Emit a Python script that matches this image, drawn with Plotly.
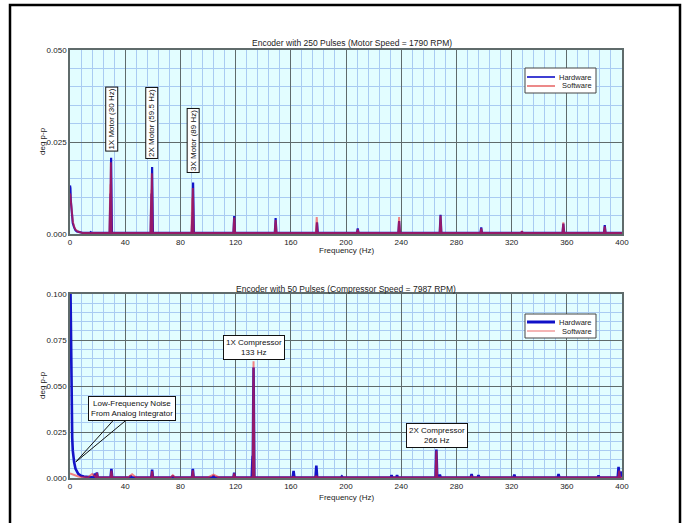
import plotly.graph_objects as go

W, H = 688, 523

# ---------------- data: top panel (250-pulse encoder, motor 1790 RPM) ----------------
top_hw_low_hz = [0, 0.3, 0.6, 1.0, 1.5, 2.0, 3.0, 4.0, 5.0, 7.0, 9.0]
top_hw_low_amp = [0.0132, 0.0125, 0.0090, 0.0065, 0.0040, 0.0030, 0.0018, 0.0010, 0.0007, 0.0005, 0.0003]
top_hw_peak_hz = [15, 29.3, 29.8, 59.0, 59.5, 88.8, 89.2, 119, 149, 179, 208.5, 238.5, 268.5, 298, 327.5, 357.5, 387.5]
top_hw_peak_amp = [0.0005, 0.0110, 0.0207, 0.0110, 0.0182, 0.0060, 0.0140, 0.0049, 0.0043, 0.0032,
                   0.0015, 0.0035, 0.0052, 0.0018, 0.0007, 0.0028, 0.0024]

top_sw_low_hz = [0, 0.3, 0.6, 1.0, 1.5, 2.0, 3.0, 4.0, 6.0, 9.0]
top_sw_low_amp = [0.0110, 0.0105, 0.0090, 0.0070, 0.0050, 0.0035, 0.0020, 0.0012, 0.0006, 0.0003]
top_sw_peak_hz = [15, 29.2, 29.6, 58.9, 59.3, 88.6, 89.0, 119, 149, 178.8, 208.5, 238.5, 268.5, 298, 327.5, 357.5, 387.5]
top_sw_peak_amp = [0.0004, 0.0135, 0.0195, 0.0120, 0.0165, 0.0100, 0.0125, 0.0045, 0.0038, 0.0046,
                   0.0012, 0.0046, 0.0050, 0.0015, 0.0006, 0.0032, 0.0021]

# ---------------- data: bottom panel (50-pulse encoder, compressor 7987 RPM) ----------------
bot_hw_low_hz = [0, 0.2, 0.4, 0.6, 0.8, 1.0, 1.3, 1.6, 2.0, 2.5, 3.0, 4.0, 5.0, 6.0, 8.0, 10.0]
bot_hw_low_amp = [0.125, 0.110, 0.075, 0.059, 0.050, 0.040, 0.030, 0.022, 0.015, 0.011,
                  0.0085, 0.0050, 0.0032, 0.0022, 0.0012, 0.0008]
bot_hw_peak_hz = [18, 19.5, 30, 44, 59.5, 74.5, 89, 104, 119, 132.3, 133, 162, 178.5, 197,
                  233, 237, 265.5, 268, 291, 296, 322, 354, 383, 397.5, 399]
bot_hw_peak_amp = [0.0025, 0.0030, 0.0050, 0.0012, 0.0045, 0.0012, 0.0050, 0.0012, 0.0028, 0.0120,
                   0.0600, 0.0038, 0.0068, 0.0008, 0.0015, 0.0015, 0.0155, 0.0018, 0.0022, 0.0016,
                   0.0018, 0.0022, 0.0014, 0.0060, 0.0035]

bot_sw_low_hz = [0, 1.0, 2.0, 4.0, 6.0, 8.0]
bot_sw_low_amp = [0.0025, 0.0022, 0.0020, 0.0012, 0.0008, 0.0006]
bot_sw_peak_hz = [16, 19.5, 30, 45, 59.5, 74.5, 89, 104, 119, 133, 162, 178.5, 265.5, 291, 398]
bot_sw_peak_amp = [0.0022, 0.0028, 0.0040, 0.0020, 0.0038, 0.0015, 0.0042, 0.0018, 0.0025, 0.0635,
                   0.0006, 0.0012, 0.0148, 0.0008, 0.0040]
bot_sw_peak_halfwidth = [3, 0.6, 0.6, 3, 0.6, 1.5, 0.6, 4, 0.6, 0.6, 0.6, 0.6, 0.6, 0.6, 0.6]

FLOOR = 0.0003
F_MAX = 400


def spectrum(low_hz, low_amp, peak_hz, peak_amp, halfwidth=None):
    """Line-spectrum polyline: low-frequency roll-off followed by narrow peaks on a noise floor."""
    xs, ys = list(low_hz), list(low_amp)
    if halfwidth is None:
        halfwidth = [0.6] * len(peak_hz)
    for f, a, w in zip(peak_hz, peak_amp, halfwidth):
        xs += [f - w, f, f + w]
        ys += [FLOOR, a, FLOOR]
    xs.append(F_MAX)
    ys.append(FLOOR)
    return xs, ys


BLUE = "#1414c8"
RED = "rgba(255,30,30,0.55)"

fig = go.Figure()

x, y = spectrum(top_hw_low_hz, top_hw_low_amp, top_hw_peak_hz, top_hw_peak_amp)
fig.add_trace(go.Scatter(x=x, y=y, mode="lines", name="Hardware",
                         line=dict(color=BLUE, width=2.2), xaxis="x", yaxis="y"))
x, y = spectrum(top_sw_low_hz, top_sw_low_amp, top_sw_peak_hz, top_sw_peak_amp)
fig.add_trace(go.Scatter(x=x, y=y, mode="lines", name="Software",
                         line=dict(color=RED, width=2.0), xaxis="x", yaxis="y"))

x, y = spectrum(bot_hw_low_hz, bot_hw_low_amp, bot_hw_peak_hz, bot_hw_peak_amp)
fig.add_trace(go.Scatter(x=x, y=y, mode="lines", name="Hardware",
                         line=dict(color=BLUE, width=2.6), xaxis="x2", yaxis="y2"))
x, y = spectrum(bot_sw_low_hz, bot_sw_low_amp, bot_sw_peak_hz, bot_sw_peak_amp, bot_sw_peak_halfwidth)
fig.add_trace(go.Scatter(x=x, y=y, mode="lines", name="Software",
                         line=dict(color=RED, width=2.0), xaxis="x2", yaxis="y2"))

# ---------------- axes ----------------
FONT = "Liberation Sans, Arial, sans-serif"
BG = "#e2fdff"
MINOR = "#a9cbf2"
MAJOR = "#5f6b6b"

x_dom = [70 / W, 622 / W]
top_dom = [1 - 234 / H, 1 - 50 / H]
bot_dom = [1 - 478 / H, 1 - 294 / H]


def xaxis_style(anchor):
    return dict(domain=x_dom, anchor=anchor, range=[0, 400], dtick=40, tick0=0, automargin=False,
                showgrid=True, gridcolor=MAJOR, gridwidth=1.4,
                minor=dict(dtick=8, showgrid=True, gridcolor=MINOR, gridwidth=1),
                showline=True, mirror=True, linecolor=MAJOR, linewidth=1.5,
                ticks="", zeroline=False, tickfont=dict(size=8, color="#222", family=FONT))


def yaxis_style(anchor, dom, top, dt):
    return dict(domain=dom, anchor=anchor, range=[0, top], dtick=dt, tick0=0, tickformat=".3f",
                automargin=False,
                showgrid=True, gridcolor=MAJOR, gridwidth=1.4,
                minor=dict(dtick=0.005, showgrid=True, gridcolor=MINOR, gridwidth=1),
                showline=True, mirror=True, linecolor=MAJOR, linewidth=1.5,
                ticks="", zeroline=False, tickfont=dict(size=8, color="#222", family=FONT))


annotations = []
shapes = []


def paper_text(xp, yp, text, size=8, angle=0, xanchor="center"):
    annotations.append(dict(xref="paper", yref="paper", x=xp / W, y=1 - yp / H, text=text,
                            xanchor=xanchor, yanchor="middle", textangle=angle, showarrow=False,
                            font=dict(size=size, color="#222", family=FONT)))


# titles and axis labels
paper_text(352, 43, "Encoder with 250 Pulses (Motor Speed = 1790 RPM)", size=8.5)
paper_text(346, 289, "Encoder with 50 Pulses (Compressor Speed = 7987 RPM)", size=8.5)
for yc in (251, 497):
    paper_text(346, yc, "Frequency (Hz)", size=8)
for yc in (141, 385):
    paper_text(42, yc, "deg p-p", size=8, angle=-90)

# rotated harmonic labels in the top panel
for f, yv, text in [(30, 0.0312, "1X Motor (30 Hz)"),
                    (59.5, 0.0302, "2X Motor (59.5 Hz)"),
                    (89, 0.0255, "3X Motor (89 Hz)")]:
    annotations.append(dict(xref="x", yref="y", x=f, y=yv, text=text, textangle=-90, showarrow=False,
                            xanchor="center", yanchor="middle",
                            bgcolor="white", bordercolor="#111", borderwidth=1, borderpad=1,
                            font=dict(size=8, color="#111", family=FONT)))

# bottom panel callouts
for f, yv, text in [(133, 0.0708, "1X Compressor<br>133 Hz"),
                    (266, 0.0230, "2X Compressor<br>266 Hz"),
                    (45, 0.0378, "Low-Frequency Noise<br>From Analog Integrator")]:
    annotations.append(dict(xref="x2", yref="y2", x=f, y=yv, text=text, showarrow=False,
                            xanchor="center", yanchor="middle",
                            bgcolor="white", bordercolor="#111", borderwidth=1, borderpad=2,
                            font=dict(size=8, color="#111", family=FONT)))

# double pointer from the noise callout to the low-frequency rise
for x0 in (31, 40):
    shapes.append(dict(type="line", xref="x2", yref="y2", x0=x0, y0=0.031, x1=4.3, y1=0.0088,
                       line=dict(color="#111", width=1)))

# legends (drawn as boxes with sample lines)
legend_specs = [
    # box (x0, y0, x1, y1) px, hardware line y, software line y, widths, software colour
    ((525, 68, 596, 93), 77, 86, 1.6, 1.2, "#e03a3a"),
    ((525, 314, 596, 338), 322, 331, 3.0, 1.6, "#f2a3a3"),
]
for (bx0, by0, bx1, by1), yh, ys, wh, ws, sw_col in legend_specs:
    shapes.append(dict(type="rect", xref="paper", yref="paper", x0=bx0 / W, x1=bx1 / W,
                       y0=1 - by1 / H, y1=1 - by0 / H, fillcolor="white",
                       line=dict(color="#444", width=1)))
    shapes.append(dict(type="line", xref="paper", yref="paper", x0=527 / W, x1=555 / W,
                       y0=1 - yh / H, y1=1 - yh / H, line=dict(color="#1010c8", width=wh)))
    shapes.append(dict(type="line", xref="paper", yref="paper", x0=527 / W, x1=555 / W,
                       y0=1 - ys / H, y1=1 - ys / H, line=dict(color=sw_col, width=ws)))
    for yy, label in [(yh, "Hardware"), (ys, "Software")]:
        paper_text(594, yy, label, size=7.5, xanchor="right")

# outer frame
shapes.append(dict(type="rect", xref="paper", yref="paper", x0=10 / W, x1=680 / W,
                   y0=-0.05, y1=1 - 5 / H, line=dict(color="black", width=2.5), layer="above"))

fig.update_layout(
    width=W, height=H,
    margin=dict(l=0, r=0, t=0, b=0, pad=0, autoexpand=False),
    paper_bgcolor="white",
    plot_bgcolor=BG,
    showlegend=False,
    xaxis=xaxis_style("y"),
    yaxis=yaxis_style("x", top_dom, 0.05, 0.025),
    xaxis2=xaxis_style("y2"),
    yaxis2=yaxis_style("x2", bot_dom, 0.1, 0.025),
    annotations=annotations,
    shapes=shapes,
)

fig.write_html("out.html")
